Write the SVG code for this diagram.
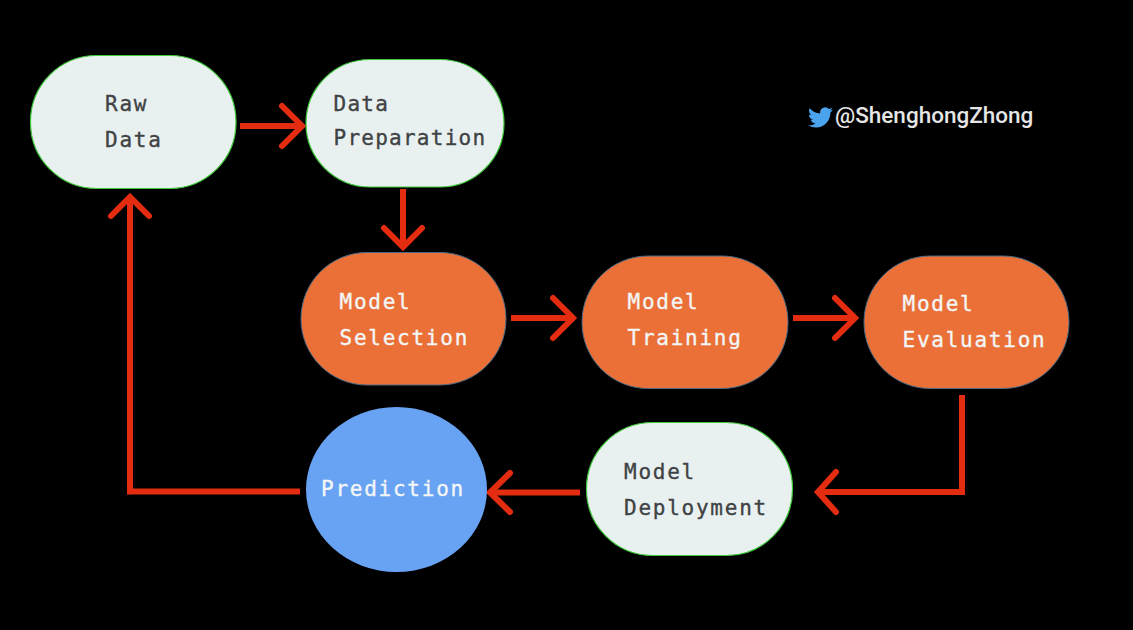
<svg xmlns="http://www.w3.org/2000/svg" width="1133" height="630" viewBox="0 0 1133 630">
<style>
.light{fill:#e9f1f0;stroke:#3fc93a;stroke-width:1.2}
.orange{fill:#ea7038;stroke:#4a6a85;stroke-width:1}
.t{font-family:"DejaVu Sans Mono","Liberation Mono",monospace;font-size:21px;letter-spacing:1.75px;stroke-width:.35px}
.n{letter-spacing:1.25px}
.d{fill:#3f4244;stroke:#3f4244}
.w{fill:#f3f6f6;stroke:#f3f6f6}
.c{fill:none;stroke:#e42c10;stroke-width:6}
.h{fill:none;stroke:#e42c10;stroke-width:6;stroke-linecap:round;stroke-linejoin:miter}
</style>
<rect width="1133" height="630" fill="#000"/>
<g id="connectors">
<path class="c" d="M240 126H300"/><path class="h" d="M282 106L302 126L282 146"/>
<path class="c" d="M403 189V246"/><path class="h" d="M384 228L403 247L422 228"/>
<path class="c" d="M511 318H572"/><path class="h" d="M553 298L573 318L553 338"/>
<path class="c" d="M793 318H854"/><path class="h" d="M835 298L855 318L835 338"/>
<path class="c" d="M962 395V492H822"/><path class="h" d="M836 472L818 492L836 512"/>
<path class="c" d="M580 492.500H492"/><path class="h" d="M510 473L490 492.500L510 512"/>
<path class="c" d="M300 491.500H130V198"/><path class="h" d="M111 216L130 197L149 216"/>
</g>
<g id="raw-data"><rect class="light" x="30.500" y="55.500" width="205.500" height="133" rx="66" ry="66"/><text class="t d" x="105" y="111">Raw</text><text class="t d" x="105" y="147">Data</text></g>
<g id="data-preparation"><rect class="light" x="306" y="59.500" width="198" height="127.500" rx="64" ry="63.700"/><text class="t d n" x="333.500" y="111">Data</text><text class="t d n" x="333.500" y="145">Preparation</text></g>
<g id="model-selection"><rect class="orange" x="301" y="252.500" width="205" height="132.500" rx="66" ry="66"/><text class="t w" x="339.500" y="308.500">Model</text><text class="t w" x="339.500" y="344.500">Selection</text></g>
<g id="model-training"><rect class="orange" x="582" y="256" width="206" height="132.500" rx="66" ry="66"/><text class="t w" x="627.500" y="308.500">Model</text><text class="t w" x="627.500" y="344.500">Training</text></g>
<g id="model-evaluation"><rect class="orange" x="864" y="256" width="205" height="132.500" rx="66" ry="66"/><text class="t w" x="902.500" y="310.500">Model</text><text class="t w" x="902.500" y="346.500">Evaluation</text></g>
<g id="model-deployment"><rect class="light" x="586.500" y="422.500" width="206" height="133" rx="66" ry="66"/><text class="t d" x="624" y="479">Model</text><text class="t d" x="624" y="515">Deployment</text></g>
<g id="prediction"><ellipse cx="396.500" cy="489.500" rx="90.500" ry="82.500" fill="#68a3f3"/><text class="t w" x="321" y="495.500">Prediction</text></g>
<g id="handle">
<path transform="translate(808 105) scale(1.04)" fill="#4aa3ec" d="M23.950 4.570a10 10 0 0 1-2.820.775 4.960 4.960 0 0 0 2.160-2.720c-.950.555-2.005.959-3.127 1.184a4.920 4.920 0 0 0-8.384 4.482C7.690 8.095 4.067 6.130 1.640 3.162a4.822 4.822 0 0 0-.666 2.475c0 1.710.870 3.213 2.188 4.096a4.904 4.904 0 0 1-2.228-.616v.060a4.923 4.923 0 0 0 3.946 4.827 4.996 4.996 0 0 1-2.212.085 4.936 4.936 0 0 0 4.604 3.417 9.867 9.867 0 0 1-6.102 2.105c-.390 0-.779-.023-1.170-.067a13.995 13.995 0 0 0 7.557 2.209c9.053 0 13.998-7.496 13.998-13.985 0-.210 0-.420-.015-.630A9.935 9.935 0 0 0 24 4.590z"/>
<text x="835" y="123" font-family="Roboto,sans-serif" font-size="22.500" font-weight="500" fill="#e6e6e6">@ShenghongZhong</text>
</g>
</svg>
